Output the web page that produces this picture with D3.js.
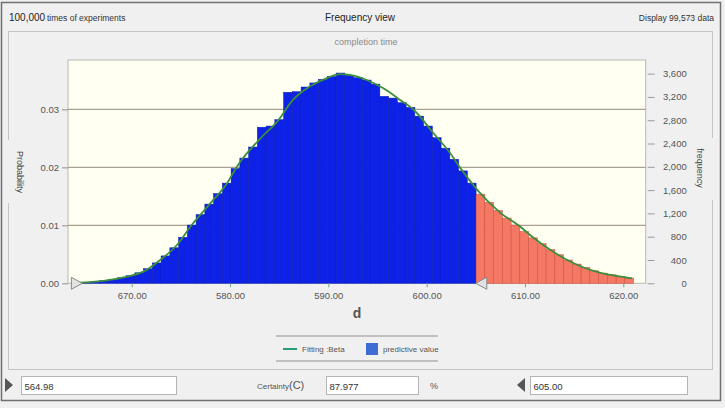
<!DOCTYPE html>
<html lang="en">
  <head>
    <meta charset="UTF-8" />
    <title>completion time - frequency view</title>
    <script src="https://cdnjs.cloudflare.com/ajax/libs/d3/7.8.5/d3.min.js"></script>
    <style>
      body { margin: 0; background: #f0f0f0; }
      text { font-family: "Liberation Sans", Arial, sans-serif; }
    </style>
  </head>
  <body>
    <svg id="chart" width="725" height="408"></svg>

    <script type="text/javascript">
      /* histogram: first bin edge, bin width and counts per bin */
      var binStart = 564.98;
      var binWidth = 0.89;
      var binCounts = [
        15, 28, 45, 65, 95, 130, 180, 250, 350, 470,
        610, 790, 1000, 1180, 1360, 1540, 1720, 1970, 2150, 2340,
        2680, 2700, 2810, 3280, 3290, 3370, 3440, 3500, 3550, 3610,
        3570, 3530, 3490, 3420, 3210, 3180, 3100, 3020, 2870, 2700,
        2500, 2320, 2130, 1930, 1720, 1530, 1390, 1250, 1120, 1000,
        890, 780, 680, 580, 490, 400, 330, 270, 215, 175,
        145, 115, 90
      ];

      /* fitted Beta curve */
      var fitX = [564.2, 567.8, 569.5, 571.2, 572.9, 574.6, 576.1, 578.0, 579.7, 580.7,
        583.1, 584.8, 586.4, 588.1, 589.8, 591.2, 592.2, 593.9, 595.6, 597.3,
        598.7, 600.7, 602.4, 603.4, 605.3, 607.5, 609.5, 610.8, 612.6, 614.3,
        615.9, 617.6, 619.3, 620.9];
      var fitFreq = [5, 57, 114, 200, 400, 658, 1000, 1373, 1717, 2003,
        2490, 2776, 3148, 3377, 3520, 3590, 3577, 3491, 3348, 3148,
        2976, 2576, 2232, 1986, 1574, 1210, 975, 790, 572, 400,
        275, 183, 126, 86];

      var trials = 99573;
      var lowerValue = 564.98;
      var upperValue = 605.0;
      var certainty = "87.977";

      var xTickValues = [570, 580, 590, 600, 610, 620];
      var xTickLabels = ["670.00", "580.00", "590.00", "600.00", "610.00", "620.00"];
      var probTicks = [0, 0.01, 0.02, 0.03];
      var freqTicks = [0, 400, 800, 1200, 1600, 2000, 2400, 2800, 3200, 3600];

      var svg = d3.select("#chart");
      var plotL = 68, plotR = 645.7, plotT = 60, plotB = 283.3;

      var x = d3.scaleLinear().domain([563.52, 622.28]).range([plotL, plotR]);
      var yFreq = d3.scaleLinear().domain([0, 3834]).range([plotB, plotT]);
      var yProb = d3.scaleLinear().domain([0, 3834 / trials]).range([plotB, plotT]);

      /* window frame */
      svg.append("rect").attr("width", 725).attr("height", 408).attr("fill", "#f0f0f0");
      svg.append("rect").attr("x", 1.5).attr("y", 2.5).attr("width", 719).attr("height", 398)
        .attr("fill", "none").attr("stroke", "#707070").attr("stroke-width", 1.5);
      svg.append("rect").attr("x", 8.5).attr("y", 31.5).attr("width", 704).attr("height", 338)
        .attr("fill", "none").attr("stroke", "#c4c4c4");
      /* gaps in the panel border behind the side titles */
      svg.append("rect").attr("x", 5).attr("y", 140).attr("width", 8).attr("height", 63).attr("fill", "#f0f0f0");
      svg.append("rect").attr("x", 708).attr("y", 138).attr("width", 8).attr("height", 62).attr("fill", "#f0f0f0");

      /* header */
      svg.append("text").attr("x", 9).attr("y", 21).attr("font-size", 10).attr("fill", "#222").text("100,000");
      svg.append("text").attr("x", 47).attr("y", 21).attr("font-size", 8.5).attr("fill", "#333").text("times of experiments");
      svg.append("text").attr("x", 360).attr("y", 21).attr("text-anchor", "middle").attr("font-size", 10)
        .attr("fill", "#222").text("Frequency view");
      svg.append("text").attr("x", 714).attr("y", 21).attr("text-anchor", "end").attr("font-size", 8.5)
        .attr("fill", "#333").text("Display 99,573 data");
      svg.append("text").attr("x", 366).attr("y", 45).attr("text-anchor", "middle").attr("font-size", 9)
        .attr("fill", "#8a8a8a").text("completion time");

      /* plot area */
      svg.append("rect").attr("x", plotL).attr("y", plotT).attr("width", plotR - plotL).attr("height", plotB - plotT)
        .attr("fill", "#fffff2").attr("stroke", "#b8b8b8");

      svg.append("g").selectAll("line").data(probTicks.slice(1)).enter().append("line")
        .attr("x1", plotL).attr("x2", plotR)
        .attr("y1", function (d) { return yProb(d); })
        .attr("y2", function (d) { return yProb(d); })
        .attr("stroke", "#a8a092").attr("stroke-width", 1.2);

      /* bars */
      var bins = binCounts.map(function (c, i) {
        return { x0: binStart + i * binWidth, x1: binStart + (i + 1) * binWidth, count: c };
      });
      svg.append("g").selectAll("rect").data(bins).enter().append("rect")
        .attr("x", function (d) { return x(d.x0); })
        .attr("width", function (d) { return x(d.x1) - x(d.x0); })
        .attr("y", function (d) { return yFreq(d.count); })
        .attr("height", function (d) { return plotB - yFreq(d.count); })
        .attr("fill", function (d) { return d.x0 >= upperValue ? "#f47863" : "#0d22e6"; })
        .attr("stroke", function (d) { return d.x0 >= upperValue ? "#cc4a38" : "#0b1ab0"; })
        .attr("stroke-width", 0.5);

      /* fitted curve */
      var line = d3.line()
        .x(function (d, i) { return x(fitX[i]); })
        .y(function (d) { return yFreq(d); })
        .curve(d3.curveMonotoneX);
      svg.append("path").datum(fitFreq).attr("d", line)
        .attr("fill", "none").attr("stroke", "#3a8f3a").attr("stroke-width", 1.8);

      /* axes */
      var axisLeft = svg.append("g").attr("transform", "translate(" + plotL + ",0)")
        .call(d3.axisLeft(yProb).tickValues(probTicks).tickFormat(d3.format(".2f")).tickSize(6).tickPadding(3));
      var axisRight = svg.append("g").attr("transform", "translate(" + (plotR + 2) + ",0)")
        .call(d3.axisRight(yFreq).tickValues(freqTicks).tickFormat(d3.format(",")).tickSize(7).tickPadding(3));
      axisRight.selectAll("text").attr("text-anchor", "end").attr("x", 39);
      var axisBottom = svg.append("g").attr("transform", "translate(0," + plotB + ")")
        .call(d3.axisBottom(x).tickValues(xTickValues)
          .tickFormat(function (d, i) { return xTickLabels[i]; }).tickSize(4).tickPadding(5));
      [axisLeft, axisRight, axisBottom].forEach(function (a) {
        a.select(".domain").remove();
        a.selectAll("line").attr("stroke", "#9a9a9a");
        a.selectAll("text").attr("font-size", 9.5).attr("fill", "#555")
          .attr("font-family", "'Liberation Sans', Arial, sans-serif");
      });
      axisLeft.selectAll("line").attr("stroke", "#a8a092").attr("stroke-width", 1.2);
      axisBottom.selectAll("line").attr("stroke", "#6aa88a");

      svg.append("text").attr("x", 357).attr("y", 318).attr("text-anchor", "middle").attr("font-size", 14)
        .attr("font-weight", "bold").attr("fill", "#555").text("d");

      svg.append("text").attr("transform", "translate(17,172) rotate(90)").attr("text-anchor", "middle")
        .attr("font-size", 9).attr("fill", "#444").text("Probability");
      svg.append("text").attr("transform", "translate(697,168) rotate(90)").attr("text-anchor", "middle")
        .attr("font-size", 9).attr("fill", "#444").text("frequency");

      /* certainty grabbers on the axis */
      var gx0 = x(lowerValue), gx1 = x(upperValue);
      svg.append("path")
        .attr("d", "M" + (gx0 - 11) + "," + (plotB - 6) + "L" + gx0 + "," + plotB + "L" + (gx0 - 11) + "," + (plotB + 6) + "Z")
        .attr("fill", "#e2e2e2").attr("stroke", "#8a8a8a");
      svg.append("path")
        .attr("d", "M" + (gx1 + 11) + "," + (plotB - 6) + "L" + gx1 + "," + plotB + "L" + (gx1 + 11) + "," + (plotB + 6) + "Z")
        .attr("fill", "#e2e2e2").attr("stroke", "#8a8a8a");

      /* legend */
      var legend = svg.append("g");
      legend.append("line").attr("x1", 276).attr("x2", 438).attr("y1", 336).attr("y2", 336)
        .attr("stroke", "#b0b0b0").attr("stroke-width", 1.5);
      legend.append("line").attr("x1", 276).attr("x2", 438).attr("y1", 361).attr("y2", 361)
        .attr("stroke", "#b0b0b0").attr("stroke-width", 1.5);
      legend.append("line").attr("x1", 283).attr("x2", 297).attr("y1", 349).attr("y2", 349)
        .attr("stroke", "#2a9a78").attr("stroke-width", 2);
      legend.append("text").attr("x", 302).attr("y", 352).attr("font-size", 8).attr("fill", "#555").text("Fitting :Beta");
      legend.append("rect").attr("x", 366).attr("y", 343).attr("width", 12).attr("height", 12).attr("fill", "#3c6cd4");
      legend.append("text").attr("x", 383).attr("y", 352).attr("font-size", 8).attr("fill", "#555").text("predictive value");

      /* bottom controls */
      svg.append("path").attr("d", "M5,378L13,385L5,392Z").attr("fill", "#555");
      svg.append("path").attr("d", "M525,378L517,385L525,392Z").attr("fill", "#555");
      var boxes = [
        { x: 21.5, w: 155, text: lowerValue.toFixed(2) },
        { x: 326.5, w: 92, text: certainty },
        { x: 530.5, w: 157, text: upperValue.toFixed(2) }
      ];
      svg.append("g").selectAll("rect").data(boxes).enter().append("rect")
        .attr("x", function (d) { return d.x; }).attr("y", 376.5)
        .attr("width", function (d) { return d.w; }).attr("height", 18)
        .attr("fill", "#ffffff").attr("stroke", "#b4b4b4");
      svg.append("g").selectAll("text").data(boxes).enter().append("text")
        .attr("x", function (d) { return d.x + 3; }).attr("y", 389.5)
        .attr("font-size", 9.5).attr("fill", "#333")
        .text(function (d) { return d.text; });
      var cert = svg.append("text").attr("x", 257).attr("y", 389).attr("fill", "#555");
      cert.append("tspan").attr("font-size", 8).text("Certainty");
      cert.append("tspan").attr("font-size", 11).text("(C)");
      svg.append("text").attr("x", 430).attr("y", 389).attr("font-size", 9).attr("fill", "#555").text("%");
    </script>
  </body>
</html>
